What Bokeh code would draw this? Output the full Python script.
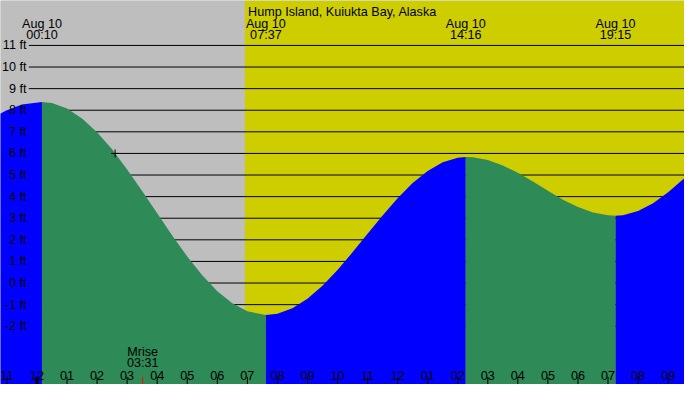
from bokeh.plotting import figure
from bokeh.models import Range1d
from bokeh.core.properties import value
from bokeh.embed import file_html
from bokeh.resources import INLINE

# ---------------- data ----------------
title_text = "Hump Island, Kuiukta Bay, Alaska"
station_date = "Aug 10"

# hours since midnight Aug 10
extreme_times = [0.1667, 7.6167, 14.2667, 19.25]
extreme_labels = ["00:10", "07:37", "14:16", "19:15"]
extreme_heights = [8.38, -1.48, 5.83, 3.12]
extreme_types = ["H", "L", "H", "L"]

# tide curve heights (ft)
tide_times = [-1.5, -1.0, -0.5, 0.1667, 0.5, 1.0, 1.5, 2.0, 2.5, 3.0, 3.5, 4.0, 4.5, 5.0,
              5.5, 6.0, 6.5, 7.0, 7.6167, 8.0, 8.5, 9.0, 9.5, 10.0, 10.5, 11.0,
              11.5, 12.0, 12.5, 13.0, 13.5, 14.0, 14.2667, 14.5, 15.0, 15.5, 16.0,
              16.5, 17.0, 17.5, 18.0, 18.5, 19.0, 19.25, 19.5, 20.0, 20.5, 21.0, 21.5, 22.0]
tide_heights = [7.64, 8.00, 8.26, 8.38, 8.33, 8.08, 7.62, 6.98, 6.19, 5.26, 4.26, 3.23, 2.20, 1.23,
                0.36, -0.38, -0.94, -1.31, -1.48, -1.42, -1.17, -0.73, -0.13, 0.60, 1.42, 2.28,
                3.13, 3.93, 4.63, 5.19, 5.59, 5.80, 5.83, 5.82, 5.69, 5.44, 5.10,
                4.70, 4.27, 3.86, 3.52, 3.27, 3.14, 3.12, 3.14, 3.33, 3.69, 4.20, 4.80, 5.44]

sunrise_time = 6 + 55/60
moonrise_time = 3 + 31/60
moonrise_label = "03:31"

ft_levels = [11, 10, 9, 8, 7, 6, 5, 4, 3, 2, 1, 0, -1, -2]
ft_labels = ["11 ft", "10 ft", "9 ft", "8 ft", "7 ft", "6 ft", "5 ft", "4 ft", "3 ft",
             "2 ft", "1 ft", "0 ft", "-1 ft", "-2 ft"]

hour_ticks = list(range(-1, 22))
hour_labels = ["11", "12", "01", "02", "03", "04", "05", "06", "07", "08", "09", "10",
               "11", "12", "01", "02", "03", "04", "05", "06", "07", "08", "09"]

marker_time = 2.6
marker_height = 6.0

# ---------------- layout (reference pixels, 700x400, mapped onto the figure) ----------------
W, H = 684, 384
X0 = 37.3      # reference x of midnight
PXH = 30.76    # reference pixels per hour
Y0 = 294.3     # reference y of 0 ft
PXF = 22.5     # reference pixels per foot


def hx(px):
    return (px - X0) / PXH


def fy(py):
    return (Y0 - py) / PXF


x_start, x_end = hx(0), hx(700)
y_start, y_end = fy(400), fy(0)

GRAY = "#BEBEBE"
YELLOW = "#CDCD00"
GREEN = "#2E8B57"
BLUE = "#0000FF"
FONT = value("Liberation Sans")
FS = "12.6px"

p = figure(width=W, height=H, output_backend="svg", toolbar_location=None,
           x_range=Range1d(x_start, x_end), y_range=Range1d(y_start, y_end),
           x_axis_type=None, y_axis_type=None, min_border=0, title=None)
p.outline_line_color = None
p.background_fill_color = GRAY
p.border_fill_color = GRAY
p.xgrid.visible = False
p.ygrid.visible = False

# night / day background
p.quad(left=[x_start, sunrise_time], right=[sunrise_time, x_end],
       bottom=[y_start, y_start], top=[y_end, y_end],
       fill_color=[GRAY, YELLOW], line_color=None)

# grid lines
grid_x0 = hx(29)
p.segment(x0=[grid_x0] * len(ft_levels), x1=[x_end] * len(ft_levels),
          y0=ft_levels, y1=ft_levels, line_color="black", line_width=1)

# tide fill, split at the extremes: rising blue, falling green
eps = 1e-3
bounds = [tide_times[0]] + extreme_times + [tide_times[-1]]
for i in range(len(bounds) - 1):
    a, b = bounds[i], bounds[i + 1]
    xs = [t for t in tide_times if a - eps <= t <= b + eps]
    ys = [h for t, h in zip(tide_times, tide_heights) if a - eps <= t <= b + eps]
    if i < len(extreme_types):
        rising = extreme_types[i] == "H"
    else:
        rising = extreme_types[-1] == "L"
    p.varea(x=xs, y1=[y_start] * len(xs), y2=ys, fill_color=BLUE if rising else GREEN)

# marker
p.scatter(x=[marker_time], y=[marker_height], marker="cross", size=8,
          line_color="black", line_width=1)

# y labels
p.text(x=[hx(26.5)] * len(ft_levels), y=ft_levels, text=ft_labels,
       text_align="right", text_baseline="middle", text_font=FONT,
       text_font_size=FS, text_color="black")

# title
p.text(x=[hx(350)], y=[fy(12)], text=[title_text], text_align="center",
       text_baseline="alphabetic", text_font=FONT, text_font_size=FS, text_color="black")

# extreme labels
n = len(extreme_times)
p.text(x=extreme_times, y=[fy(24.3)] * n, text=[station_date] * n, text_align="center",
       text_baseline="alphabetic", text_font=FONT, text_font_size=FS, text_color="black")
p.text(x=extreme_times, y=[fy(36)] * n, text=extreme_labels, text_align="center",
       text_baseline="alphabetic", text_font=FONT, text_font_size=FS, text_color="black")

# hour ticks and labels
nt = len(hour_ticks)
p.segment(x0=hour_ticks, x1=hour_ticks, y0=[fy(400)] * nt, y1=[fy(392)] * nt,
          line_color="black", line_width=[3 if h % 24 == 0 else 1 for h in hour_ticks])
p.text(x=hour_ticks, y=[fy(390.7)] * nt, text=hour_labels,
       text_align="center", text_baseline="alphabetic", text_font=FONT,
       text_font_size=FS, text_color="black")

# moonrise
p.segment(x0=[moonrise_time], x1=[moonrise_time], y0=[fy(400)], y1=[fy(392)],
          line_color="red", line_width=1)
p.text(x=[moonrise_time, moonrise_time], y=[fy(366.3), fy(377.8)],
       text=["Mrise", moonrise_label], text_align="center", text_baseline="alphabetic",
       text_font=FONT, text_font_size=FS, text_color="black")

open("out.html", "w").write(file_html(p, INLINE))
